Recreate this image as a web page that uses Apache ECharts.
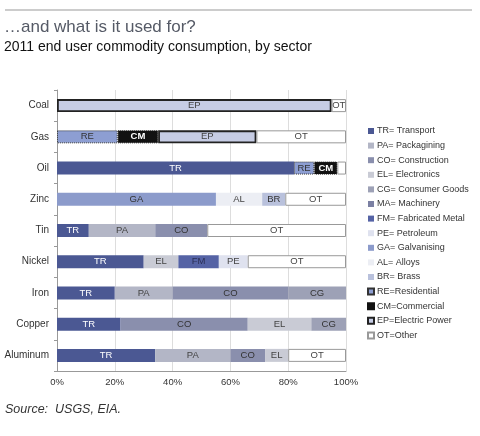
<!DOCTYPE html>
<html><head><meta charset="utf-8">
<script src="https://cdn.jsdelivr.net/npm/echarts@6/dist/echarts.min.js"></script>
<style>html,body{margin:0;padding:0;background:#fff}#c{width:480px;height:436px}</style>
</head><body><div id="c"></div>
<script>
var categories = ['Coal','Gas','Oil','Zinc','Tin','Nickel','Iron','Copper','Aluminum'];
var xTicks = [0,20,40,60,80,100];
var TR = [null,null,82,null,11,30,20,22,34];
var PA = [null,null,null,null,23,null,20,null,26];
var CO = [null,null,null,null,18,null,40,44,12];
var EL = [null,null,null,null,null,12,null,22,8];
var CG = [null,null,null,null,null,null,20,12,null];
var MA = [null,null,null,null,null,null,null,null,null];
var FM = [null,null,null,null,null,14,null,null,null];
var PE = [null,null,null,null,null,10,null,null,null];
var GA = [null,null,null,55,null,null,null,null,null];
var AL = [null,null,null,16,null,null,null,null,null];
var BR = [null,null,null,8,null,null,null,null,null];
var RE = [null,21,7,null,null,null,null,null,null];
var CM = [null,14,8,null,null,null,null,null,null];
var EP = [95,34,null,null,null,null,null,null,null];
var OT = [5,31,3,21,48,34,null,null,20];

var seriesDefs = [
  {code:'TR', name:'TR= Transport', data:TR, color:'#4b5893', text:'#fff'},
  {code:'PA', name:'PA= Packagining', data:PA, color:'#b3b6c6', text:'#444'},
  {code:'CO', name:'CO= Construction', data:CO, color:'#8a8fad', text:'#333'},
  {code:'EL', name:'EL= Electronics', data:EL, color:'#c9cbd5', text:'#444'},
  {code:'CG', name:'CG= Consumer Goods', data:CG, color:'#9da1b6', text:'#333'},
  {code:'MA', name:'MA= Machinery', data:MA, color:'#7b80a3', text:'#333'},
  {code:'FM', name:'FM= Fabricated Metal', data:FM, color:'#5563a5', text:'#2a2f55'},
  {code:'PE', name:'PE= Petroleum', data:PE, color:'#dfe2ef', text:'#444'},
  {code:'GA', name:'GA= Galvanising', data:GA, color:'#8c9bcb', text:'#333'},
  {code:'AL', name:'AL= Alloys', data:AL, color:'#eceef4', text:'#444'},
  {code:'BR', name:'BR= Brass', data:BR, color:'#b9c1dc', text:'#333'},
  {code:'RE', name:'RE=Residential', data:RE, color:'#8d9ed2', text:'#333', border:'#333', bw:1, bt:'dotted'},
  {code:'CM', name:'CM=Commercial', data:CM, color:'#111111', text:'#fff', bold:true, border:'#111', bw:1, bt:'dotted'},
  {code:'EP', name:'EP=Electric Power', data:EP, color:'#c6cce4', text:'#444', border:'#222', bw:1.8, bt:'solid'},
  {code:'OT', name:'OT=Other', data:OT, color:'#ffffff', text:'#444', border:'#999', bw:1, bt:'solid'}
];

var series = seriesDefs.map(function(d){
  return {
    name: d.name, type:'bar', stack:'s', barWidth:13, data:d.data,
    itemStyle:{color:d.color, borderColor:d.border||d.color, borderWidth:d.bw||0, borderType:d.bt||'solid'},
    label:{show:true, position:'inside', fontSize:9.5, color:d.text, fontWeight:d.bold?'bold':'normal',
      fontFamily:'Liberation Sans, Arial, sans-serif',
      formatter:function(p){return p.value>=4 ? d.code : '';}},
    emphasis:{disabled:true}, animation:false
  };
});

var chart = echarts.init(document.getElementById('c'));
chart.setOption({
  animation:false,
  textStyle:{fontFamily:'Liberation Sans, Arial, sans-serif'},
  graphic:[
    {type:'line', shape:{x1:5,y1:10,x2:472,y2:10}, style:{stroke:'#999',lineWidth:1}},
    {type:'text', left:4, top:19, style:{text:'\u2026and what is it used for?', fontSize:17, fill:'#555a66', fontFamily:'Liberation Sans, Arial, sans-serif'}},
    {type:'text', left:4, top:40, style:{text:'2011 end user commodity consumption, by sector', fontSize:14, fill:'#111', fontFamily:'Liberation Sans, Arial, sans-serif'}},
    {type:'text', left:5, top:403, style:{text:'Source:  USGS, EIA.', fontSize:12.5, fontStyle:'italic', fill:'#333', fontFamily:'Liberation Sans, Arial, sans-serif'}}
  ],
  legend:{
    orient:'vertical', left:362, top:121, itemWidth:6, itemHeight:6, itemGap:4.6,
    icon:'rect', selectedMode:false,
    textStyle:{fontSize:9, color:'#333', lineHeight:10, padding:[0,0,0,-2]},
    data: seriesDefs.map(function(d){return d.name;})
  },
  grid:{left:57, right:134, top:90, bottom:65, containLabel:false},
  xAxis:{type:'value', min:0, max:100, interval:20,
    axisLabel:{formatter:'{value}%', fontSize:9.5, color:'#333', margin:6},
    axisLine:{show:true, lineStyle:{color:'#999'}},
    axisTick:{show:false},
    splitLine:{show:true, lineStyle:{color:'#ddd'}}},
  yAxis:{type:'category', data:categories, inverse:true,
    axisLabel:{fontSize:10, color:'#333', margin:8},
    axisLine:{show:true, lineStyle:{color:'#999'}},
    axisTick:{show:true, length:3, lineStyle:{color:'#999'}, inside:false}},
  series:series
});
</script></body></html>
